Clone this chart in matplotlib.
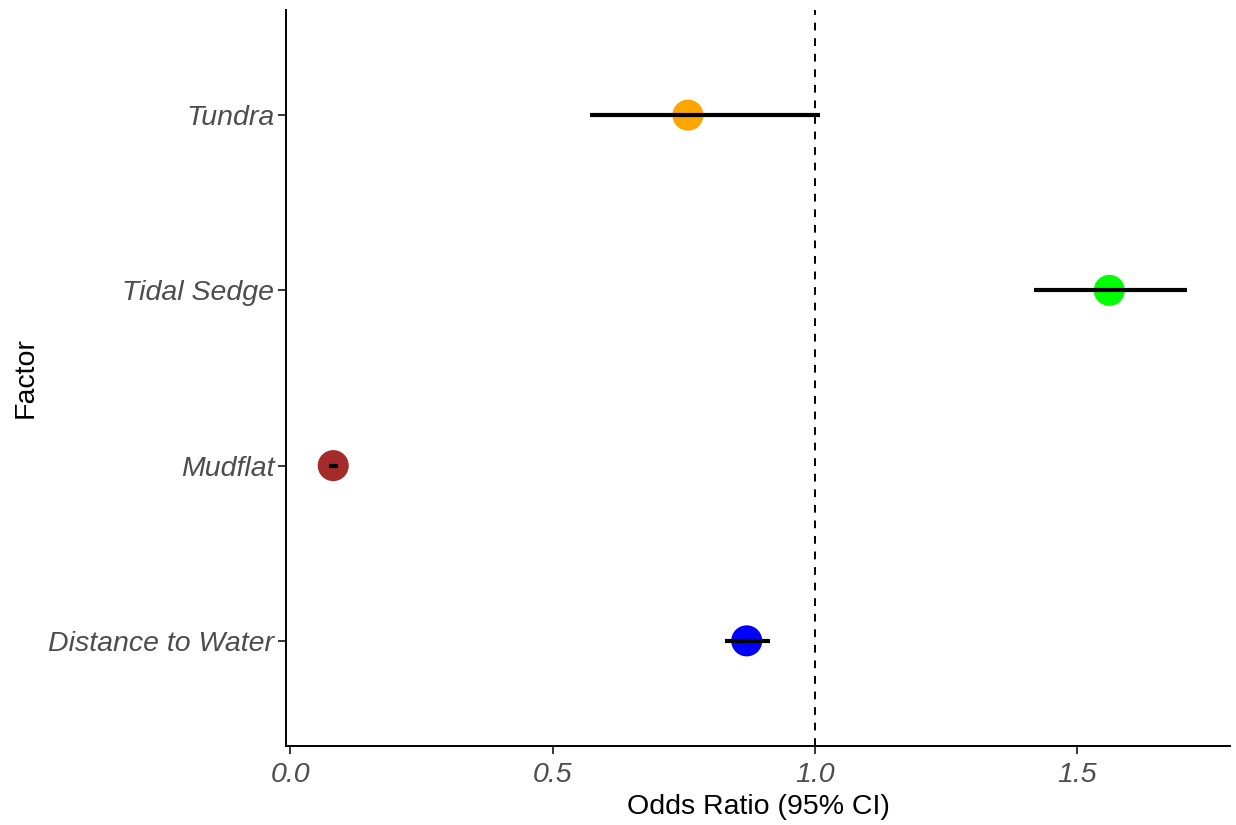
import matplotlib
matplotlib.use("Agg")
import matplotlib.pyplot as plt

factors = ["Distance to Water", "Mudflat", "Tidal Sedge", "Tundra"]
odds = [0.870, 0.082, 1.561, 0.758]
ci_low = [0.829, 0.074, 1.418, 0.572]
ci_high = [0.914, 0.091, 1.710, 1.010]
colors = ["#0000FF", "#A52A2A", "#00FF00", "#FFA500"]
xticks = [0.0, 0.5, 1.0, 1.5]

plt.rcParams['font.family'] = ['Liberation Sans', 'DejaVu Sans']

fig = plt.figure(figsize=(12.36, 8.25), dpi=100)
ax = fig.add_axes([286/1236, 1-746/825, (1230-286)/1236, (746-10)/825])

ypos = list(range(1, len(factors)+1))
ax.axvline(1.0, color="black", lw=1.4, ls=(0, (4, 4)), zorder=1)
ax.scatter(odds, ypos, s=500, c=colors, zorder=2, edgecolors='none')
ax.hlines(ypos, ci_low, ci_high, color="black", lw=3.0, zorder=3)

ax.set_xlim(-0.008, 1.791)
ax.set_ylim(0.4, len(factors)+0.6)
ax.set_yticks(ypos)
ax.set_yticklabels(factors, fontsize=20.5, style='italic', color='#4D4D4D')
ax.set_xticks(xticks)
ax.set_xticklabels([f"{v:.1f}" for v in xticks], fontsize=20.5, style='italic', color='#4D4D4D')
ax.tick_params(axis='both', length=5.5, width=1.1, color='black')
ax.tick_params(axis='y', pad=3)
ax.tick_params(axis='x', pad=6)
for s in ['top', 'right']:
    ax.spines[s].set_visible(False)
for s in ['left', 'bottom']:
    ax.spines[s].set_linewidth(1.4)
ax.set_xlabel("Odds Ratio (95% CI)", fontsize=20.5, color='black', labelpad=4)
ax.set_ylabel("Factor", fontsize=20.5, color='black', labelpad=7)

fig.savefig("out.png", dpi=100, facecolor='white')
